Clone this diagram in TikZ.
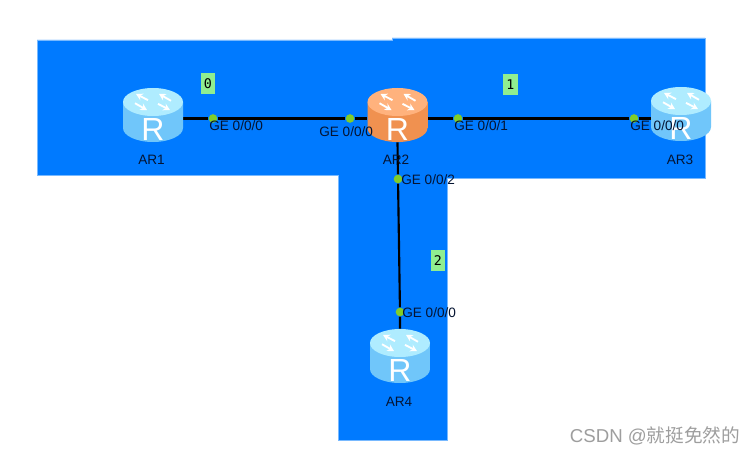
\documentclass[tikz,border=0pt]{standalone}
\usepackage{fontspec}
\setmainfont{Liberation Sans}
\newfontfamily\tagfont{DejaVu Sans Mono}
\newfontfamily\cjkfont{Noto Sans CJK SC}
\usetikzlibrary{arrows.meta, backgrounds}
\definecolor{areablue}{RGB}{0,122,255}
\definecolor{areaedge}{RGB}{120,185,255}
\definecolor{tagfill}{RGB}{144,238,144}
\definecolor{portgreen}{RGB}{130,205,40}
\definecolor{textnavy}{RGB}{5,20,50}
\definecolor{cyanside}{RGB}{112,198,250}
\definecolor{cyanmid}{RGB}{190,240,255}
\definecolor{cyantop}{RGB}{175,236,255}
\definecolor{orangeside}{RGB}{240,145,80}
\definecolor{orangemid}{RGB}{255,205,165}
\definecolor{orangetop}{RGB}{255,178,125}

\begin{document}
\begin{tikzpicture}[
    x=0.75pt, y=-0.75pt,
    >=Stealth,
    area/.style={draw=areaedge, line width=0.5pt, fill=areablue},
    link/.style={draw=black, line width=1.6pt},
    port/.style={circle, fill=portgreen, minimum size=6.5pt, inner sep=0pt},
    iface/.style={font=\fontsize{10.2}{12}\selectfont, text=textnavy, inner sep=0pt},
    devname/.style={font=\fontsize{10.2}{12}\selectfont, text=textnavy, inner sep=0pt},
    tagbox/.style={fill=tagfill, minimum width=11.2pt, minimum height=15.5pt, inner sep=0pt,
        font=\tagfont\fontsize{10}{12}\selectfont, text=black},
    routerbox/.style={minimum width=45pt, minimum height=40.5pt, inner sep=0pt},
    rletter/.style={font=\fontsize{24}{28}\selectfont, text=white, inner sep=0pt},
    pics/router/.style n args={3}{code={
        \node[routerbox] (-box) at (0,0) {};
        \path[left color=#1, middle color=#2, right color=#1]
            (-30,-13) -- (-30,13) arc[start angle=180, end angle=0, x radius=30, y radius=14] -- (30,-13) -- cycle;
        \path[fill=#3] (0,-13) circle[x radius=30, y radius=14];
        \begin{scope}[shift={(0,-13)}, yscale=0.62, draw=white, -{Stealth[length=5pt, width=5.5pt]}, line width=1.4pt]
            \draw (-5,-3) -- (-17,-13);
            \draw (-18,2) -- (-6,13);
            \draw (5,3) -- (17,13);
            \draw (18,-2) -- (6,-13);
        \end{scope}
        \node[rletter] (-letter) at (0,14) {R};
    }},
]
\useasboundingbox (0,0) rectangle (755,456);
% ----- routers
\pic (ar1) at (153,115) {router={cyanside}{cyanmid}{cyantop}};
\pic (ar2) at (397.5,115) {router={orangeside}{orangemid}{orangetop}};
\pic (ar3) at (681,114) {router={cyanside}{cyanmid}{cyantop}};
\pic (ar4) at (400,356) {router={cyanside}{cyanmid}{cyantop}};
\node[devname] (name1) at (151.5,160) {AR1};
\node[devname] (name2) at (396,160) {AR2};
\node[devname] (name3) at (680,160) {AR3};
\node[devname] (name4) at (399,402) {AR4};
% ----- ports on the links
\node[port] (p1) at (213,118.5) {};
\node[port] (p2) at (350,118.5) {};
\node[port] (p3) at (458,118.5) {};
\node[port] (p4) at (634,118.5) {};
\node[port] (p5) at (398,179) {};
\node[port] (p6) at (400,312) {};
\node[iface, anchor=west] (if1) at (209,126) {GE 0/0/0};
\node[iface, anchor=west] (if2) at (319,132) {GE 0/0/0};
\node[iface, anchor=west] (if3) at (454,126) {GE 0/0/1};
\node[iface, anchor=west] (if4) at (630,126) {GE 0/0/0};
\node[iface, anchor=west] (if5) at (401,179.5) {GE 0/0/2};
\node[iface, anchor=west] (if6) at (402,312.5) {GE 0/0/0};
% ----- link numbers
\node[tagbox] (tag0) at (208,83.5) {0};
\node[tagbox] (tag1) at (510.5,84.5) {1};
\node[tagbox] (tag2) at (438,260.5) {2};
\node[font=\fontsize{14}{17}\selectfont, text=black!38, anchor=east, inner sep=0pt] (mark) at (740.5,436) {CSDN @{\cjkfont 就挺免然的}};
% ----- area and links behind everything
\begin{scope}[on background layer]
\fill[white] (0,0) rectangle (755,456);
\draw[area] (37,40) -- (392,40) -- (392,38) -- (705,38) -- (705,178) -- (447,178) -- (447,440) -- (338,440) -- (338,175) -- (37,175) -- cycle;
\draw[link] (ar1-box.east |- p1) -- (p1) -- (p2) -- (ar2-box.west |- p2);
\draw[link] (ar2-box.east |- p3) -- (p3) -- (p4) -- (ar3-box.west |- p4);
\draw[link] (ar2-box.south) -- (p5) -- (p6) -- (ar4-box.north);
\end{scope}
\end{tikzpicture}
\end{document}
